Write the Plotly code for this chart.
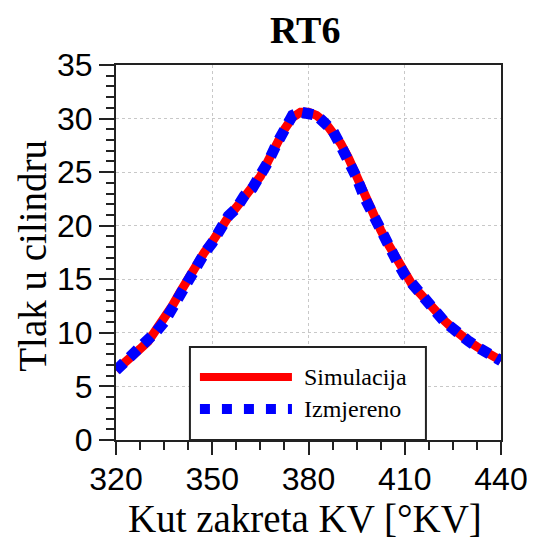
import plotly.graph_objects as go

# Crank angle [°KV]
angle = [320, 322.5, 325, 327.5, 330, 332.5, 335, 337.5, 340, 342.5, 345, 347.5,
         350, 352.5, 355, 357.5, 360, 362.5, 365, 367.5, 370, 372.5, 375, 377.5,
         380, 382.5, 385, 387.5, 390, 392.5, 395, 397.5, 400, 402.5, 405, 407.5,
         410, 412.5, 415, 417.5, 420, 422.5, 425, 427.5, 430, 432.5, 435, 437.5, 440]

# Simulated cylinder pressure
simulacija = [6.5, 7.1, 7.8, 8.5, 9.2, 10.2, 11.2, 12.5, 13.8, 15.1, 16.3, 17.5,
              18.5, 19.8, 20.8, 21.7, 22.7, 23.6, 24.6, 26.1, 27.7, 29.0, 30.1, 30.6,
              30.6, 30.3, 29.7, 28.8, 27.7, 26.3, 24.6, 22.7, 21.1, 19.6, 18.2, 16.8,
              15.5, 14.4, 13.6, 12.7, 11.8, 11.1, 10.4, 9.7, 9.2, 8.7, 8.2, 7.8, 7.4]

# Measured cylinder pressure
izmjereno = [6.5, 7.2, 7.9, 8.5, 9.3, 10.1, 11.0, 12.3, 13.6, 15.0, 16.4, 17.4,
             18.4, 19.9, 20.9, 21.6, 22.8, 23.5, 24.7, 26.0, 27.6, 29.1, 30.3, 30.6,
             30.5, 30.3, 29.6, 28.9, 27.5, 26.1, 24.5, 22.6, 21.0, 19.5, 18.0, 16.7,
             15.4, 14.5, 13.6, 12.8, 11.7, 11.0, 10.4, 9.7, 9.2, 8.7, 8.3, 7.8, 7.4]

x_ticks = [320, 350, 380, 410, 440]
y_ticks = [0, 5, 10, 15, 20, 25, 30, 35]

fig = go.Figure()
fig.add_trace(go.Scatter(x=angle, y=simulacija, mode="lines", name="Simulacija",
                         line=dict(color="#ff0000", width=9), showlegend=False))
fig.add_trace(go.Scatter(x=angle, y=izmjereno, mode="lines", name="Izmjereno",
                         line=dict(color="#0000ff", width=11, dash="11px,8px"),
                         showlegend=False))

tick_font = dict(family="Liberation Sans, Arial, sans-serif", size=32, color="black")
serif = "Liberation Serif, Times New Roman, serif"

fig.update_layout(
    width=519, height=531,
    margin=dict(l=108, r=26, t=57, b=99),
    paper_bgcolor="white", plot_bgcolor="white",
    xaxis=dict(range=[320, 440], tickvals=x_ticks, ticktext=[str(v) for v in x_ticks],
               ticks="outside", ticklen=13, tickwidth=2, tickcolor="#222",
               showline=True, linecolor="#222", linewidth=2, mirror=True,
               showgrid=True, gridcolor="#c8c8c8", griddash="dot", gridwidth=1,
               zeroline=False, tickfont=tick_font, automargin=False,
               ticklabeloverflow="allow", ticklabelstandoff=-3,
               minor=dict(tick0=320, dtick=7.5, ticks="outside", ticklen=8,
                          tickwidth=2, tickcolor="#222", showgrid=False)),
    yaxis=dict(range=[0, 35], tickvals=y_ticks, ticktext=[str(v) for v in y_ticks],
               ticks="outside", ticklen=15, tickwidth=2, tickcolor="#222",
               showline=True, linecolor="#222", linewidth=2, mirror=True,
               showgrid=True, gridcolor="#c8c8c8", griddash="dot", gridwidth=1,
               zeroline=False, tickfont=tick_font, automargin=False,
               ticklabeloverflow="allow",
               minor=dict(tick0=0, dtick=1, ticks="outside", ticklen=8,
                          tickwidth=2, tickcolor="#222", showgrid=False)),
)

# Titles
fig.add_annotation(xref="paper", yref="paper", x=0.49, y=1.093, text="<b>RT6</b>",
                   showarrow=False, xanchor="center", yanchor="middle",
                   font=dict(family=serif, size=38, color="black"))
fig.add_annotation(xref="paper", yref="paper", x=0.49, y=-0.21, text="Kut zakreta KV [°KV]",
                   showarrow=False, xanchor="center", yanchor="middle",
                   font=dict(family=serif, size=39, color="black"))
fig.add_annotation(xref="paper", yref="paper", x=-0.216, y=0.491, text="Tlak u cilindru",
                   showarrow=False, xanchor="center", yanchor="middle", textangle=-90,
                   font=dict(family=serif, size=39, color="black"))

# Legend box drawn in paper coordinates
fig.add_shape(type="rect", xref="paper", yref="paper", x0=0.192, x1=0.805, y0=0.0, y1=0.248,
              line=dict(color="#222", width=2), fillcolor="white", layer="above")
fig.add_shape(type="line", xref="paper", yref="paper", x0=0.218, x1=0.457, y0=0.168, y1=0.168,
              line=dict(color="#ff0000", width=8), layer="above")
fig.add_shape(type="line", xref="paper", yref="paper", x0=0.218, x1=0.457, y0=0.083, y1=0.083,
              line=dict(color="#0000ff", width=10, dash="10px,12px"), layer="above")
fig.add_annotation(xref="paper", yref="paper", x=0.483, y=0.168, text="Simulacija",
                   showarrow=False, xanchor="left", yanchor="middle",
                   font=dict(family=serif, size=24, color="black"))
fig.add_annotation(xref="paper", yref="paper", x=0.483, y=0.083, text="Izmjereno",
                   showarrow=False, xanchor="left", yanchor="middle",
                   font=dict(family=serif, size=24, color="black"))

fig.write_html("out.html")
